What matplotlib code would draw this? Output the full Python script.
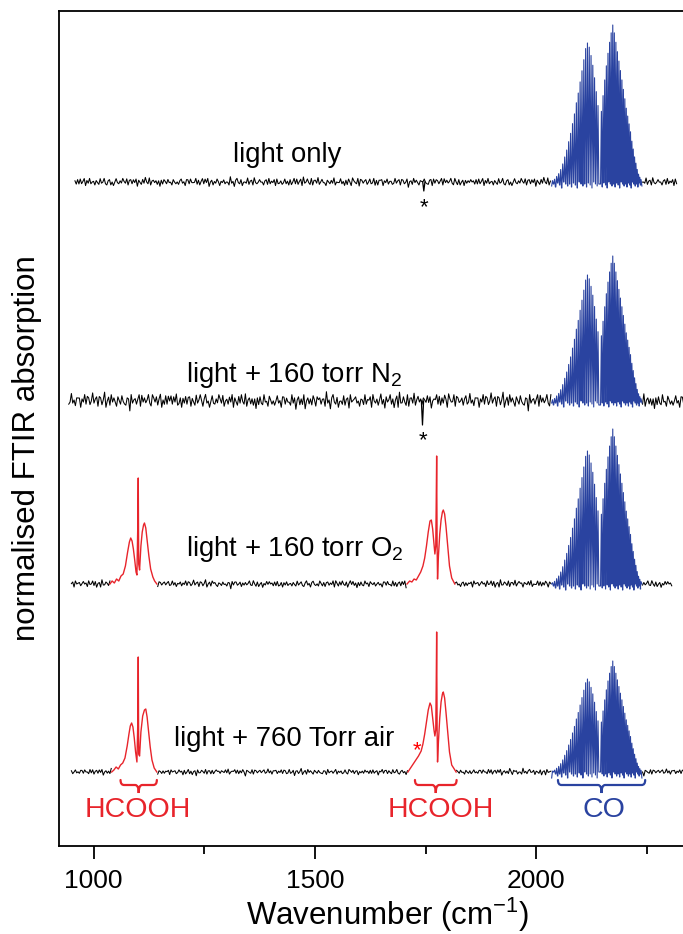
import numpy as np
import matplotlib
matplotlib.use('Agg')
import matplotlib.pyplot as plt
from matplotlib.path import Path
from matplotlib.patches import PathPatch
from matplotlib.transforms import ScaledTranslation

plt.rcParams['font.family'] = ['Liberation Sans', 'DejaVu Sans']
plt.rcParams['mathtext.fontset'] = 'custom'
plt.rcParams['mathtext.rm'] = 'Liberation Sans'
plt.rcParams['mathtext.it'] = 'Liberation Sans:italic'
plt.rcParams['mathtext.bf'] = 'Liberation Sans:bold'

# ---------------- data ----------------
trace_labels = ['light only', 'light + 160 torr N$_2$',
                'light + 160 torr O$_2$', 'light + 760 Torr air']
trace_offsets = [664, 445, 262, 74]          # baseline of each stacked trace (arb. units)
trace_start = [958, 944, 950, 950]           # cm-1
trace_end = [2318, 2345, 2309, 2345]         # cm-1
noise_amp = [0.85, 1.5, 0.72, 0.6]
noise_shift = [0, 77, 151, 223]

# baseline noise texture (estimated, arb. units)
noise_pattern = [
    2, -3, 4, -1, 5, -4, 1, 3, -6, 2, -2, 6, -3, 0, 4, -5, 3, -1, -4, 5,
    -2, 1, 6, -3, -5, 2, 4, -2, 0, -6, 3, 5, -1, -3, 2, -4, 6, 1, -2, 3,
    -5, 0, 4, -3, 2, -1, 5, -6, 3, 1, -4, 2, -2, 6, 0, -3, 4, -5, 1, 3,
    -1, 5, -4, 2, -6, 3, 0, 4, -2, -3, 6, -1, 2, -5, 4, 1, -3, 3, -4, 0,
    5, -2, 1, -6, 4, 2, -3, 5, -1, 0, -4, 6, -2, 3, -5, 1, 4, -3, 2, -1,
    6, -4, 0, 3, -5, 2, -2, 5, 1, -6, 4, -1, 3, -3, 0, 2, -5, 6, -2, 1,
    -4, 3, 5, -1, -3, 4, -6, 2, 0, -2, 5, -4, 1, 3, -5, 6, -1, -3, 2, 4,
    -2, 0, -5, 3, 1, -4, 6, -3, 2, -1, 4, -6, 5, 0, -2, 3, -4, 1, 5, -3,
    2, -5, 4, -1, 0, 6, -3, 2, -4, 1, 3, -6, 5, -2, 0, 4, -1, -3, 6, -5,
    1, 3, -2, 4, -4, 0, 5, -1, 2, -6, 3, 1, -3, 5, -2, 4, -5, 0, 2, -1,
    6, -3, 1, -4, 3, -2, 5, 0, -6, 4, 2, -1, -3, 6, -5, 1, 3, -2, 0, 4,
    -4, 2, 5, -3, -1, 6, -2, 1, -5, 3, 0, 4, -6, 2, -1, 5, -3, 1, 3, -4,
    0, 6, -2, -1, 4, -5, 2, 3, -3, 1, 5, -6, 0, 2, -4, 6, -1, 3, -2, -5,
    4, 1, -3, 5, -1, 0, -4, 3, 2, -6, 5, -2, 1, 4, -3, 0, 6, -5, 2, -1,
    3, -4, 1, 5, -2, -3, 6, 0, -1, 4, -5, 2, 3, -6, 1, -2, 5, -3, 4, 0,
]

# CO rovibrational lines (cm-1) and relative intensities
co_R_pos = [2147.08, 2150.86, 2154.60, 2158.30, 2161.97, 2165.61, 2169.20, 2172.77,
            2176.30, 2179.80, 2183.26, 2186.68, 2190.07, 2193.43, 2196.75, 2200.03,
            2203.28, 2206.50, 2209.68, 2212.82, 2215.93, 2219.01, 2222.05, 2225.05,
            2228.02, 2230.96, 2233.86, 2236.72]
co_R_env = [0.45, 0.55, 0.65, 0.74, 0.82, 0.89, 0.95, 1.00, 0.95, 0.89, 0.83, 0.77,
            0.71, 0.65, 0.59, 0.53, 0.47, 0.42, 0.37, 0.32, 0.26, 0.21, 0.16, 0.12,
            0.08, 0.05, 0.03, 0.015]
co_P_pos = [2139.43, 2135.55, 2131.63, 2127.68, 2123.70, 2119.68, 2115.62, 2111.53,
            2107.41, 2103.25, 2099.05, 2094.82, 2090.56, 2086.26, 2081.92, 2077.55,
            2073.15, 2068.71, 2064.23, 2059.72, 2055.18, 2050.60, 2045.98, 2041.33,
            2036.65]
co_P_env = [0.55, 0.65, 0.75, 0.84, 0.91, 0.97, 1.00, 0.96, 0.88, 0.80, 0.72, 0.64,
            0.57, 0.49, 0.42, 0.35, 0.29, 0.23, 0.18, 0.13, 0.09, 0.06, 0.04, 0.02, 0.01]
co_P_peak = [139, 126, 133, 93]
co_R_peak = [157, 145, 155, 111]
co_valley = [-4, -2, -5, -1, -3, -6, 0, -2]   # depth between lines (cycled)

# HCOOH bands (cm-1, height above baseline)
o2_b1_x = [1037, 1042, 1047, 1052, 1057, 1062, 1067, 1072, 1077, 1081, 1084, 1087, 1090,
           1093, 1096, 1098, 1100, 1101, 1102, 1104, 1107, 1110, 1113, 1115, 1118, 1121,
           1125, 1129, 1134, 1138, 1143]
o2_b1_h = [0, 3, 1, 5, 3, 8, 10, 18, 32, 42, 46, 43, 35, 24, 12, 9, 60, 106, 20, 14, 38,
           52, 59, 61, 56, 44, 28, 15, 7, 3, 0]
o2_b2_x = [1708, 1714, 1719, 1724, 1729, 1734, 1739, 1744, 1748, 1752, 1756, 1760, 1763,
           1766, 1769, 1771, 1773, 1774, 1775, 1776, 1777, 1779, 1782, 1785, 1788, 1790,
           1793, 1796, 1800, 1804, 1809, 1816]
o2_b2_h = [0, 3, 2, 5, 4, 8, 12, 18, 26, 38, 52, 63, 64, 55, 40, 30, 38, 80, 128, 40, 5,
           28, 50, 64, 72, 74, 70, 58, 38, 18, 6, 0]
air_b1_x = [1041, 1046, 1051, 1056, 1061, 1066, 1071, 1076, 1080, 1083, 1086, 1089, 1092,
            1095, 1098, 1100, 1101, 1102, 1104, 1107, 1111, 1115, 1118, 1121, 1124, 1128,
            1132, 1137, 1143]
air_b1_h = [0, 2, 5, 3, 7, 9, 14, 26, 38, 46, 49, 45, 34, 20, 10, 50, 115, 18, 16, 40, 56,
            62, 63, 55, 42, 25, 12, 4, 0]
air_b2_x = [1710, 1716, 1722, 1728, 1734, 1740, 1744, 1748, 1752, 1756, 1760, 1763, 1766,
            1769, 1771, 1773, 1774, 1775, 1776, 1777, 1779, 1782, 1785, 1788, 1790, 1793,
            1796, 1800, 1804, 1809, 1819]
air_b2_h = [0, 4, 8, 12, 16, 21, 28, 38, 50, 62, 69, 66, 54, 42, 36, 42, 85, 140, 45, 10,
            30, 54, 70, 78, 80, 74, 60, 40, 20, 7, 0]

# artefact dips marked with * (trace index, cm-1, depth)
dip_trace = [0, 1]
dip_pos = [1746, 1743]
dip_depth = [-9, -24]
ast_pos = [1746, 1744, 1730]
ast_level = [646, 413, 103]
ast_colors = ['black', 'black', 'red']

brace_ranges = [(1061, 1143), (1726, 1820), (2049, 2246)]
brace_labels = ['HCOOH', 'HCOOH', 'CO']
brace_label_x = [1101, 1784, 2153]

x_ticks = [1000, 1500, 2000]
x_minor = [1250, 1750, 2250]

# ---------------- style ----------------
RED = '#e8242b'
BLUE = '#2a43a0'
grid_step = 3.0
co_half_width = 1.9

fig = plt.figure(figsize=(6.83, 9.34), dpi=100)
ax = fig.add_axes([59 / 683, 88 / 934, 627.8 / 683, 835 / 934])
ax.set_xlim(922, 2340)
ax.set_ylim(0, 835)

hcooh_bands = {2: [(o2_b1_x, o2_b1_h), (o2_b2_x, o2_b2_h)],
               3: [(air_b1_x, air_b1_h), (air_b2_x, air_b2_h)]}

co_lo = min(co_P_pos) - co_half_width
co_hi = max(co_R_pos) + co_half_width
noise_arr = np.array(noise_pattern, float)

for i in range(4):
    base = trace_offsets[i]
    xg = np.arange(trace_start[i], trace_end[i], grid_step)
    fast = np.resize(np.roll(noise_arr, noise_shift[i]), xg.size)
    fast2 = np.resize(np.roll(noise_arr, noise_shift[i] + 37), xg.size)
    gate = np.resize(np.roll(noise_arr, 11 * i + 5), xg.size) > 1
    yg = base + noise_amp[i] * (0.7 * fast + 0.4 * fast2 * gate)
    mask = (xg > co_lo) & (xg < co_hi)
    for bx, bh in hcooh_bands.get(i, []):
        mask |= (xg > bx[0]) & (xg < bx[-1])
    yg = np.where(mask, np.nan, yg)
    ax.plot(xg, yg, color='black', lw=0.75)

    # CO band
    pos = np.concatenate([co_P_pos, co_R_pos])
    hh = np.concatenate([np.array(co_P_env) * co_P_peak[i], np.array(co_R_env) * co_R_peak[i]])
    order = np.argsort(pos)
    pos, hh = pos[order], hh[order]
    val = np.resize(np.roll(co_valley, i), hh.size).astype(float)
    zx = (pos[:, None] + np.array([-co_half_width, 0, co_half_width])).ravel()
    zy = np.column_stack([val, hh, np.roll(val, -1)]).ravel() + base
    ax.plot(zx, zy, color=BLUE, lw=0.8)

    for bx, bh in hcooh_bands.get(i, []):
        ax.plot(bx, base + np.array(bh), color=RED, lw=1.0)

for t, dp, dd in zip(dip_trace, dip_pos, dip_depth):
    b = trace_offsets[t]
    ax.plot([dp - 2.5, dp, dp + 2.5], [b, b + dd, b], color='black', lw=0.9)

# trace labels
label_x = [1438, 1453, 1455, 1430]
label_y = [684, 464, 290, 100]
for txt, lx, ly in zip(trace_labels, label_x, label_y):
    ax.text(lx, ly, txt, ha='center', va='baseline', fontsize=19.8, color='black')

# asterisks
ast_fs = 16
off = ScaledTranslation(0, -0.58 * ast_fs / 72, fig.dpi_scale_trans)
for ax_, lv, c in zip(ast_pos, ast_level, ast_colors):
    ax.text(ax_, lv, '*', ha='center', va='baseline', fontsize=ast_fs, color=c,
            transform=ax.transData + off)

# braces
def brace(x0, x1, color):
    yt, ym, yb = 66, 61, 53
    d = 8
    xc = 0.5 * (x0 + x1)
    verts = [(x0, yt), (x0, ym), (x0 + d, ym), (xc - d, ym), (xc, ym), (xc, yb),
             (xc, ym), (xc + d, ym), (x1 - d, ym), (x1, ym), (x1, yt)]
    codes = [Path.MOVETO, Path.CURVE3, Path.CURVE3, Path.LINETO, Path.CURVE3, Path.CURVE3,
             Path.CURVE3, Path.CURVE3, Path.LINETO, Path.CURVE3, Path.CURVE3]
    ax.add_patch(PathPatch(Path(verts, codes), fill=False, edgecolor=color, lw=1.6,
                           capstyle='round'))

for (b0, b1), lab, lx in zip(brace_ranges, brace_labels, brace_label_x):
    col = BLUE if lab == 'CO' else RED
    brace(b0, b1, col)
    ax.text(lx, 36, lab, ha='center', va='center', fontsize=20.5, color=col)

# axes styling
ax.set_yticks([])
ax.set_xticks(x_ticks)
ax.set_xticks(x_minor, minor=True)
ax.tick_params(axis='x', which='major', direction='out', length=9, width=1.3,
               labelsize=19, pad=7.5)
ax.tick_params(axis='x', which='minor', direction='out', length=6, width=1.3)
for s in ax.spines.values():
    s.set_linewidth(1.3)

ax.set_xlabel('Wavenumber (cm$^{-1}$)', fontsize=22.5)
ax.xaxis.set_label_coords(0.524, -0.082)
ax.xaxis.label.set_va('center')
ax.set_ylabel('normalised FTIR absorption', fontsize=22.5)
ax.yaxis.set_label_coords(-0.051, 0.4766)
ax.yaxis.label.set_va('center')

fig.savefig('out.png', dpi=100)
